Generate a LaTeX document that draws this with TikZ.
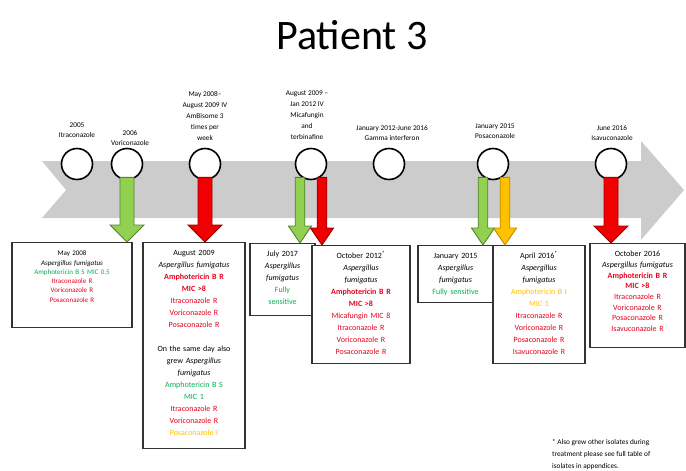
\documentclass[tikz,border=0pt]{standalone}
\usepackage{fontspec}
\setmainfont{Carlito}
\usetikzlibrary{calc,positioning}
\definecolor{arrowgray}{RGB}{204,204,204}
\definecolor{okgreen}{RGB}{146,208,80}
\definecolor{okgreenline}{RGB}{84,130,53}
\definecolor{badred}{RGB}{240,0,0}
\definecolor{badredline}{RGB}{150,0,0}
\definecolor{midyellow}{RGB}{255,192,0}
\definecolor{midyellowline}{RGB}{190,140,0}
\definecolor{txtgreen}{RGB}{0,176,80}
\definecolor{txtred}{RGB}{230,0,30}
\definecolor{txtyellow}{RGB}{255,192,0}
\tikzstyle{event} = [circle, draw=black, line width=1.6pt, fill=white, minimum size=31pt, inner sep=0pt]
\tikzstyle{when} = [align=center, anchor=south, inner sep=1pt, font=\fontsize{7.3}{10.5}\selectfont]
\tikzstyle{datebox} = [draw=black!80, line width=1.4pt, fill=white, align=center, anchor=north, inner xsep=2pt, inner ysep=5pt, text height=8pt, font=\fontsize{8}{12}\selectfont]
\newcommand{\sens}[1]{\textcolor{txtgreen}{#1}}
\newcommand{\resist}[1]{\textcolor{txtred}{#1}}
\newcommand{\interm}[1]{\textcolor{txtyellow}{#1}}
% fat arrow: fill, outline, from, to, xshift, size
\newcommand{\fatarrow}[6]{%
  \draw[draw=#2, fill=#1, line width=0.9pt, line join=miter]
    let \p1=(#3.south), \p2=(#4.north) in
    ({\x1+(#5)*1pt-7pt*#6}, {\y1+3pt}) -- ({\x1+(#5)*1pt+7pt*#6}, {\y1+3pt})
    -- ({\x1+(#5)*1pt+7pt*#6}, {\y2+17pt}) -- ({\x1+(#5)*1pt+17pt*#6}, {\y2+17pt})
    -- ({\x1+(#5)*1pt}, {\y2}) -- ({\x1+(#5)*1pt-17pt*#6}, {\y2+17pt})
    -- ({\x1+(#5)*1pt-7pt*#6}, {\y2+17pt}) -- cycle;}

\begin{document}
\begin{tikzpicture}[x=1pt, y=-1pt]
\useasboundingbox (0,0) rectangle (686,471);

\node [font=\fontsize{42}{46}\selectfont, anchor=base] (title) at (352,49) {Patient 3};

% time line
\fill [arrowgray] (42,161) -- (641,161) -- (641,141) -- (684,190) -- (641,240) -- (641,218) -- (42,218) -- (66,190) -- cycle;

\node [event] (e1) at (77,164) {};
\node [event] (e2) at (127,164) {};
\node [event] (e3) at (205,164) {};
\node [event] (e4) at (311,164) {};
\node [event] (e5) at (389,164) {};
\node [event] (e6) at (493,164) {};
\node [event] (e7) at (611,164) {};

\node [when] (l1) at (77,139) {2005\\ Itraconazole};
\node [when] (l2) at (130,147) {2006\\ Voriconazole};
\node [when, font=\fontsize{7.3}{11}\selectfont] (l3) at (205,142) {May 2008--\\ August 2009 IV\\ AmBisome 3\\ times per\\ week};
\node [when, font=\fontsize{7.3}{11}\selectfont] (l4) at (307,141) {August 2009 --\\ Jan 2012 IV\\ Micafungin\\ and\\ terbinafine};
\node [when] (l5) at (392,142) {January 2012-June 2016\\ Gamma interferon};
\node [when] (l6) at (495,140) {January 2015\\ Posaconazole};
\node [when] (l7) at (612,142) {June 2016\\ Isavuconazole};

% results
\node [datebox, minimum width=120pt, text width=114pt, text depth=67pt, font=\fontsize{7}{9.3}\selectfont] (b1) at (72,242) {May 2008\\ \textit{Aspergillus fumigatus}\\ \sens{Amphotericin B S MIC 0.5}\\ \resist{Itraconazole R}\\ \resist{Voriconazole R}\\ \resist{Posaconazole R}};
\node [datebox, minimum width=102pt, text width=96pt, text depth=188pt] (b2) at (194,242) {August 2009\\ \textit{Aspergillus fumigatus}\\ \resist{\bfseries Amphotericin B R}\\ \resist{\bfseries MIC >8}\\ \resist{Itraconazole R}\\ \resist{Voriconazole R}\\ \resist{Posaconazole R}\\[12pt] On the same day also\\ grew \textit{Aspergillus}\\ \textit{fumigatus}\\ \sens{Amphotericin B S}\\ \sens{MIC 1}\\ \resist{Itraconazole R}\\ \resist{Voriconazole R}\\ \interm{Posaconazole I}};
\node [datebox, minimum width=65pt, text width=59pt, text depth=54pt] (b3) at (282.5,243) {July 2017\\ \textit{Aspergillus}\\ \textit{fumigatus}\\ \sens{Fully}\\ \sens{sensitive}};
\node [datebox, minimum width=98pt, text width=92pt, text depth=100pt] (b4) at (361,245) {October 2012\textsuperscript{*}\\ \textit{Aspergillus}\\ \textit{fumigatus}\\ \resist{\bfseries Amphotericin B R}\\ \resist{\bfseries MIC >8}\\ \resist{Micafungin MIC 8}\\ \resist{Itraconazole R}\\ \resist{Voriconazole R}\\ \resist{Posaconazole R}};
\node [datebox, minimum width=75pt, text width=69pt, text depth=39pt] (b5) at (455.5,245) {January 2015\\ \textit{Aspergillus}\\ \textit{fumigatus}\\ \sens{Fully sensitive}};
\node [datebox, minimum width=92pt, text width=86pt, text depth=100pt] (b6) at (539,245) {April 2016\textsuperscript{*}\\ \textit{Aspergillus}\\ \textit{fumigatus}\\ \interm{Amphotericin B I}\\ \interm{MIC 1}\\ \resist{Itraconazole R}\\ \resist{Voriconazole R}\\ \resist{Posaconazole R}\\ \resist{Isavuconazole R}};
\node [datebox, minimum width=95pt, text width=89pt, text depth=86pt, font=\fontsize{8}{10.7}\selectfont] (b7) at (637.5,243) {October 2016\\ \textit{Aspergillus fumigatus}\\ \resist{\bfseries Amphotericin B R}\\ \resist{\bfseries MIC >8}\\ \resist{Itraconazole R}\\ \resist{Voriconazole R}\\ \resist{Posaconazole R}\\ \resist{Isavuconazole R}};

\fatarrow{okgreen}{okgreenline}{e2}{b1}{0}{1}
\fatarrow{badred}{badredline}{e3}{b2}{0}{1}
\fatarrow{okgreen}{okgreenline}{e4}{b3}{-11}{0.68}
\fatarrow{badred}{badredline}{e4}{b4}{11}{0.68}
\fatarrow{okgreen}{okgreenline}{e6}{b5}{-10}{0.68}
\fatarrow{midyellow}{midyellowline}{e6}{b6}{12}{0.68}
\fatarrow{badred}{badredline}{e7}{b7}{0}{1}

\node [anchor=north west, align=left, inner sep=0pt, font=\fontsize{7.3}{12}\selectfont] (note) at (552,439) {* Also grew other isolates during\\ treatment please see full table of\\ isolates in appendices.};

\end{tikzpicture}
\end{document}
